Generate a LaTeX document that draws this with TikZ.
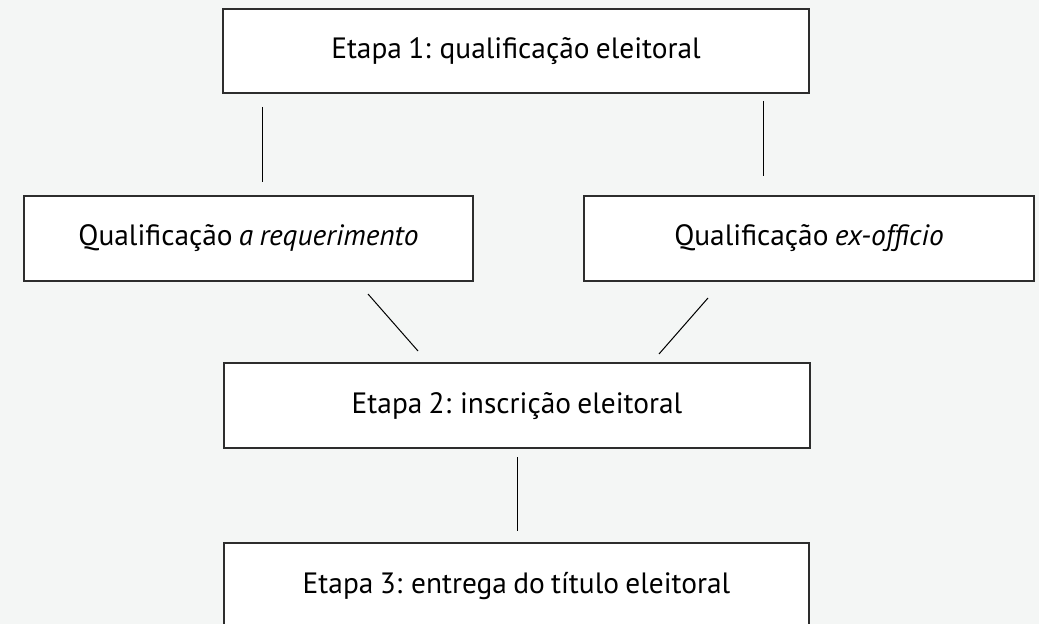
\documentclass[tikz,border=0pt]{standalone}
\usepackage{fontspec}
\setmainfont{PT Sans}[WordSpace=0.8]
\definecolor{bgc}{RGB}{244,246,245}
\definecolor{edge}{RGB}{45,45,45}
\begin{document}
\begin{tikzpicture}[x=1bp,y=-1bp,
  stage/.style={draw=edge,line width=1.3bp,fill=white,rectangle,inner sep=0pt,
    minimum height=85bp,text height=20bp,text depth=5bp,
    font=\fontsize{29.5}{34}\selectfont},
  link/.style={draw=black,line width=1bp}]
\fill[bgc] (0,0) rectangle (1039,624);
\useasboundingbox (0,0) rectangle (1039,624);
\node[stage,minimum width=586bp,minimum height=84bp] (b1) at (516,51) {Etapa 1: qualificação eleitoral};
\node[stage,minimum width=449bp] (b2) at (248.5,238.5) {Qualificação \textit{a requerimento}};
\node[stage,minimum width=450bp] (b3) at (809,238.5) {Qualificação \textit{ex-officio}};
\node[stage,minimum width=586bp] (b4) at (517,405.5) {Etapa 2: inscrição eleitoral};
\node[stage,minimum width=585bp] (b5) at (516.5,585.5) {Etapa 3: entrega do título eleitoral};
\coordinate (l1a) at (262,107);
\coordinate (l1b) at (262,182);
\coordinate (l2a) at (763,101);
\coordinate (l2b) at (763,176);
\coordinate (l3a) at (368,294);
\coordinate (l3b) at (418,351);
\coordinate (l4a) at (708,298);
\coordinate (l4b) at (659,354);
\coordinate (l5a) at (517,457);
\coordinate (l5b) at (517,531);
\draw[link] (l1a) -- (l1b);
\draw[link] (l2a) -- (l2b);
\draw[link] (l3a) -- (l3b);
\draw[link] (l4a) -- (l4b);
\draw[link] (l5a) -- (l5b);
\end{tikzpicture}
\end{document}
